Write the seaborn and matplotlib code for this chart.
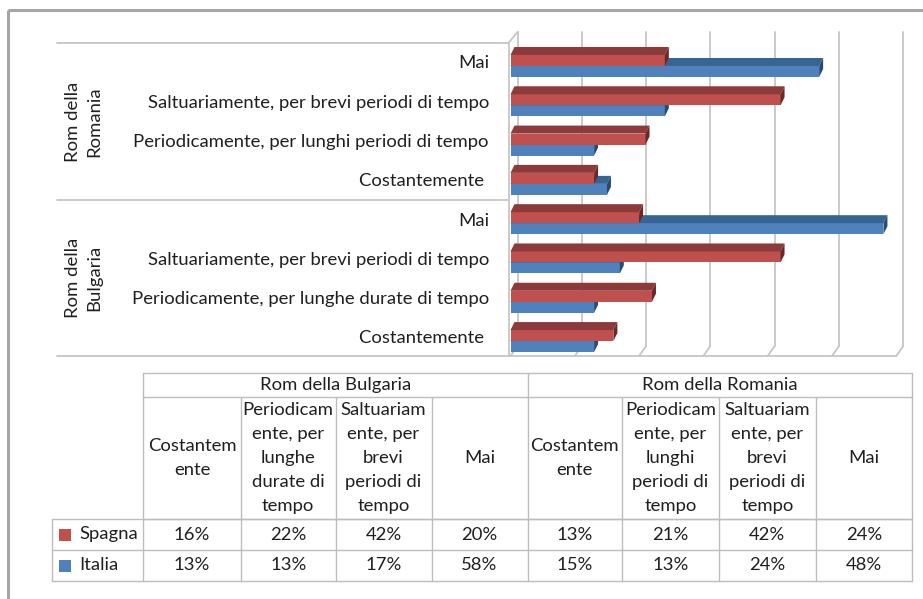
import matplotlib
matplotlib.use('Agg')
import matplotlib.pyplot as plt
import pandas as pd
import seaborn as sns
from matplotlib.patches import Polygon, Rectangle
from matplotlib.lines import Line2D
from matplotlib.transforms import ScaledTranslation

# --- data (percent) ---
series = ['Spagna', 'Italia']
colors = {'Spagna': '#C0504D', 'Italia': '#4F81BD'}
top_colors = {'Spagna': '#8C3B3A', 'Italia': '#386493'}
side_colors = {'Spagna': '#6A2827', 'Italia': '#274B72'}

group_bulgaria = 'Rom della Bulgaria'
group_romania = 'Rom della Romania'
answers_bulgaria = ['Costantemente ', 'Periodicamente, per lunghe durate di tempo',
                    'Saltuariamente, per brevi periodi di tempo', 'Mai']
answers_romania = ['Costantemente ', 'Periodicamente, per lunghi periodi di tempo',
                   'Saltuariamente, per brevi periodi di tempo', 'Mai']
headers_bulgaria = ['Costantem\nente', 'Periodicam\nente, per\nlunghe\ndurate di\ntempo',
                    'Saltuariam\nente, per\nbrevi\nperiodi di\ntempo', 'Mai']
headers_romania = ['Costantem\nente', 'Periodicam\nente, per\nlunghi\nperiodi di\ntempo',
                   'Saltuariam\nente, per\nbrevi\nperiodi di\ntempo', 'Mai']
spagna_bulgaria = [16, 22, 42, 20]
italia_bulgaria = [13, 13, 17, 58]
spagna_romania = [13, 21, 42, 24]
italia_romania = [15, 13, 24, 48]

sns.set_style('white')
plt.rcParams['font.family'] = ['Lato', 'DejaVu Sans']
FS = 13.3
TXT = '#1F1F1F'
GRID = '#C6C6C6'
W, H = 923, 599

# chart rows, top to bottom: Romania then Bulgaria, each from "Mai" down
rows = []
for grp, answers, sp, it in [('Romania', answers_romania, spagna_romania, italia_romania),
                             ('Bulgaria', answers_bulgaria, spagna_bulgaria, italia_bulgaria)]:
    for a, s, i in reversed(list(zip(answers, sp, it))):
        rows.append({'key': grp + '|' + a, 'answer': a, 'serie': 'Spagna', 'val': s / 100})
        rows.append({'key': grp + '|' + a, 'answer': a, 'serie': 'Italia', 'val': i / 100})
df = pd.DataFrame(rows)
keys = list(dict.fromkeys(df['key']))
labels = [k.split('|')[1] for k in keys]

fig = plt.figure(figsize=(W / 100, H / 100), dpi=100)

# background frame in pixel coordinates (border, separators, table)
fr = fig.add_axes([0, 0, 1, 1], zorder=0)
fr.set_xlim(0, W)
fr.set_ylim(H, 0)
fr.axis('off')
fr.add_patch(Rectangle((8, 10), W + 10, H + 10, fill=False, edgecolor='#A6A6A6', lw=2.2))

# bar axes
y_top, y_bot = 43, 356
x_left, x_right = 510.5, 896.3
ax = fig.add_axes([x_left / W, 1 - y_bot / H, (x_right - x_left) / W, (y_bot - y_top) / H], zorder=1)
ax.patch.set_alpha(0)

sns.barplot(data=df, y='key', x='val', hue='serie', hue_order=series, palette=colors,
            orient='h', width=0.56, saturation=1, legend=False, ax=ax, linewidth=0)
ylim = (7.38, -0.585)
ax.set_xlim(0, 0.6)
ax.set_ylim(*ylim)
for s in ax.spines.values():
    s.set_visible(False)
ax.set_xticks([])
ax.set_xlabel('')
ax.set_ylabel('')
ax.set_yticks(range(len(keys)))
ax.set_yticklabels(labels, fontsize=FS, color=TXT)
ax.tick_params(axis='y', length=0, pad=15.5)
for lab in ax.get_yticklabels():
    lab.set_transform(lab.get_transform() + ScaledTranslation(0, 3 / 72, fig.dpi_scale_trans))

# pixel -> data conversion
sx = (x_right - x_left) / 0.6
sy = (y_bot - y_top) / (ylim[0] - ylim[1])

# 3D walls: back gridlines, floor diagonals, left wall
dxw, dyw = 7 / sx, 10 / sy
y_front_top, y_front_bot = ylim[1], ylim[0]
for v in [0, 0.1, 0.2, 0.3, 0.4, 0.5, 0.6]:
    ax.add_line(Line2D([v + dxw, v + dxw], [y_front_top - 11 / sy, y_front_bot - dyw],
                       color=GRID, lw=1.3, zorder=0.5, clip_on=False))
    ax.add_line(Line2D([v, v + dxw], [y_front_bot, y_front_bot - dyw],
                       color=GRID, lw=1.3, zorder=0.5, clip_on=False))
ax.add_line(Line2D([-2 / sx, -2 / sx], [y_front_top, y_front_bot], color=GRID, lw=1.3, clip_on=False))
ax.add_line(Line2D([-2 / sx, dxw], [y_front_top, y_front_top - 11 / sy], color=GRID, lw=1.3, clip_on=False))
ax.add_line(Line2D([-2 / sx, 0.6], [y_front_bot, y_front_bot], color=GRID, lw=1.3, clip_on=False))

# 3D bar faces
dx, dy = 4 / sx, 8 / sy
for h, cont in enumerate(ax.containers):
    name = series[h]
    z = 3 if name == 'Spagna' else 2
    for r in cont.patches:
        r.set_zorder(z)
        x0, w, y0, hh = r.get_x(), r.get_width(), r.get_y(), r.get_height()
        top = [(x0, y0), (x0 + w, y0), (x0 + w + dx, y0 - dy), (x0 + dx, y0 - dy)]
        side = [(x0 + w, y0), (x0 + w, y0 + hh), (x0 + w + dx, y0 + hh - dy), (x0 + w + dx, y0 - dy)]
        ax.add_patch(Polygon(top, closed=True, facecolor=top_colors[name], edgecolor='none',
                             zorder=z + 0.1, clip_on=False))
        ax.add_patch(Polygon(side, closed=True, facecolor=side_colors[name], edgecolor='none',
                             zorder=z + 0.1, clip_on=False))

# group separators and rotated group labels
for yy in [y_top, 200, y_bot]:
    fr.plot([57, 508], [yy, yy], color=GRID, lw=1.3)
fr.text(84, (y_top + 200) / 2, 'Rom della\nRomania', rotation=90, ha='center', va='center',
        fontsize=FS, color=TXT, linespacing=1.4, multialignment='center')
fr.text(84, (200 + y_bot) / 2, 'Rom della\nBulgaria', rotation=90, ha='center', va='center',
        fontsize=FS, color=TXT, linespacing=1.4, multialignment='center')

# data table
TL = '#BDBDBD'
cols = [143, 241, 335.5, 431.5, 527.5, 621.7, 719, 815.7, 912]
ys = [372.5, 397, 519, 550, 581]
for yy in ys[:3]:
    fr.plot([cols[0], cols[-1]], [yy, yy], color=TL, lw=1)
for yy in ys[2:]:
    fr.plot([52, cols[-1]], [yy, yy], color=TL, lw=1)
for xx in [cols[0], cols[4], cols[-1]]:
    fr.plot([xx, xx], [ys[0], ys[-1]], color=TL, lw=1)
for xx in cols[1:4] + cols[5:8]:
    fr.plot([xx, xx], [ys[1], ys[-1]], color=TL, lw=1)
fr.plot([52, 52], [ys[2], ys[-1]], color=TL, lw=1)

fr.text((cols[0] + cols[4]) / 2, (ys[0] + ys[1]) / 2, group_bulgaria, ha='center', va='center',
        fontsize=FS, color=TXT)
fr.text((cols[4] + cols[8]) / 2, (ys[0] + ys[1]) / 2, group_romania, ha='center', va='center',
        fontsize=FS, color=TXT)
blocks = [(cols[0:5], headers_bulgaria, spagna_bulgaria, italia_bulgaria),
          (cols[4:9], headers_romania, spagna_romania, italia_romania)]
for cx, heads, sp, it in blocks:
    for j in range(4):
        xc = (cx[j] + cx[j + 1]) / 2
        fr.text(xc, (ys[1] + ys[2]) / 2, heads[j], ha='center', va='center',
                fontsize=FS, color=TXT, linespacing=1.62, multialignment='center')
        fr.text(xc, (ys[2] + ys[3]) / 2, f'{sp[j]}%', ha='center', va='center', fontsize=FS, color=TXT)
        fr.text(xc, (ys[3] + ys[4]) / 2, f'{it[j]}%', ha='center', va='center', fontsize=FS, color=TXT)

for k, name in enumerate(series):
    yc = (ys[2 + k] + ys[3 + k]) / 2
    fr.add_patch(Rectangle((59, yc - 6), 12, 12, facecolor=colors[name], edgecolor='none'))
    fr.text(79, yc, name, ha='left', va='center', fontsize=FS, color=TXT)

fig.savefig('out.png', dpi=100)
